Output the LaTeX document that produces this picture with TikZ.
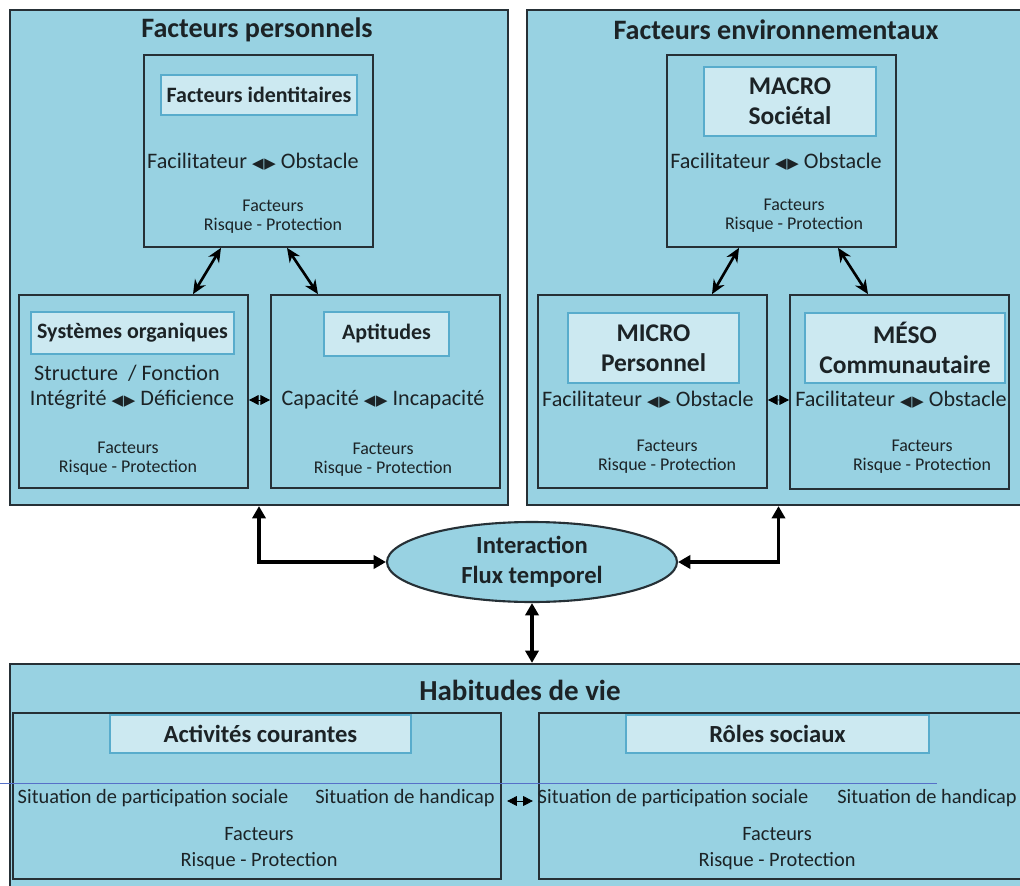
\documentclass[tikz,border=0pt]{standalone}
\usepackage{fontspec}
\setmainfont{Carlito}
\newfontfamily\trifont{DejaVu Sans}
\definecolor{panelblue}{RGB}{152,210,226}
\definecolor{titlefill}{RGB}{204,233,241}
\definecolor{titleedge}{RGB}{88,172,204}
\definecolor{edgegray}{RGB}{38,48,54}
\definecolor{textdark}{RGB}{28,35,38}
\definecolor{strayblue}{RGB}{86,112,200}
\usepackage{tikz}
\usetikzlibrary{shapes,arrows.meta,positioning,calc}

\newcommand{\lrtri}{{\trifont\fontsize{8.5}{8.5}\selectfont ◀\kern0.5pt▶}}

\begin{document}
\begin{tikzpicture}[x=0.02cm, y=-0.02cm,
    panel/.style={draw=edgegray, line width=1.3pt, fill=panelblue, inner sep=0},
    unit/.style={draw=edgegray, line width=1pt, fill=panelblue, inner sep=0},
    headbox/.style={draw=titleedge, line width=1pt, fill=titlefill, inner sep=0,
        text=textdark, font=\bfseries\fontsize{12.5}{15}\selectfont},
    bighead/.style={headbox, align=center, font=\bfseries\fontsize{14.5}{17}\selectfont},
    heading/.style={inner sep=0, text=textdark, font=\bfseries\fontsize{16}{18}\selectfont},
    midtext/.style={inner sep=0, text=textdark, font=\fontsize{12.6}{15}\selectfont},
    smalltext/.style={inner sep=0, align=center, text=textdark, font=\fontsize{10.2}{10.8}\selectfont},
    bottext/.style={inner sep=0, align=center, text=textdark, font=\fontsize{11.6}{14.8}\selectfont},
    diag/.style={{Stealth[length=8pt,width=7pt]}-{Stealth[length=8pt,width=7pt]}, line width=1.5pt, draw=black},
    tiny/.style={{Triangle[length=5.5pt,width=5.5pt]}-{Triangle[length=5.5pt,width=5.5pt]}, line width=0.4pt, draw=black},
    bold/.style={{Triangle[length=7pt,width=7.5pt]}-{Triangle[length=7pt,width=7.5pt]}, line width=1.8pt, draw=black}]

    \useasboundingbox (0,0) rectangle (1020,885);
    \fill[white] (0,0) rectangle (1020,885);

    % Panels
    \node[panel, minimum width=9.96cm, minimum height=9.9cm] (persF) at (259,257.5) {};
    \node[panel, minimum width=10.06cm, minimum height=9.9cm] (envF) at (778.5,257.5) {};
    \node[panel, minimum width=20.4cm, minimum height=4.56cm] (habV) at (520,778) {};

    \node[heading] (persT) at (257,30) {Facteurs personnels};
    \node[heading] (envT) at (776,30) {Facteurs environnementaux};
    \node[heading, font=\bfseries\fontsize{16.5}{18}\selectfont] (habT) at (520,690) {Habitudes de vie};

    % Facteurs personnels
    \node[unit, minimum width=4.58cm, minimum height=3.84cm] (ident) at (258.5,151) {};
    \node[headbox, minimum width=3.92cm, minimum height=0.8cm] (identH) at (259,95) {Facteurs identitaires};
    \node[midtext] (identM) at (253,162) {Facilitateur \lrtri{} Obstacle};
    \node[smalltext] (identF) at (273,216.5) {Facteurs\\Risque - Protection};

    \node[unit, minimum width=4.58cm, minimum height=3.86cm] (sysorg) at (133.5,391.5) {};
    \node[headbox, minimum width=4.06cm, minimum height=0.84cm] (sysorgH) at (132.5,333) {Systèmes organiques};
    \node[midtext] (sysorgS) at (127,373) {Structure \ / Fonction};
    \node[midtext] (sysorgM) at (132,400) {Intégrité \lrtri{} Déficience};
    \node[smalltext] (sysorgF) at (128,459) {Facteurs\\Risque - Protection};

    \node[unit, minimum width=4.58cm, minimum height=3.86cm] (aptit) at (385.5,391.5) {};
    \node[headbox, minimum width=2.5cm, minimum height=0.88cm] (aptitH) at (386.5,334) {Aptitudes};
    \node[midtext] (aptitM) at (383,400) {Capacité \lrtri{} Incapacité};
    \node[smalltext] (aptitF) at (383,459.5) {Facteurs\\Risque - Protection};

    % Facteurs environnementaux
    \node[unit, minimum width=4.58cm, minimum height=3.84cm] (macro) at (781.5,151) {};
    \node[bighead, minimum width=3.44cm, minimum height=1.38cm] (macroH) at (790,101.5) {MACRO\\Sociétal};
    \node[midtext] (macroM) at (776,162) {Facilitateur \lrtri{} Obstacle};
    \node[smalltext] (macroF) at (794,216) {Facteurs\\Risque - Protection};

    \node[unit, minimum width=4.58cm, minimum height=3.86cm] (micro) at (652.5,391.5) {};
    \node[bighead, minimum width=3.42cm, minimum height=1.4cm] (microH) at (653.5,348) {MICRO\\Personnel};
    \node[midtext] (microM) at (648,400) {Facilitateur \lrtri{} Obstacle};
    \node[smalltext] (microF) at (667,456.5) {Facteurs\\Risque - Protection};

    \node[unit, minimum width=4.38cm, minimum height=3.88cm] (meso) at (899.5,392) {};
    \node[bighead, minimum width=4cm, minimum height=1.4cm] (mesoH) at (905,348) {MÉSO\\Communautaire};
    \node[midtext] (mesoM) at (901,400) {Facilitateur \lrtri{} Obstacle};
    \node[smalltext] (mesoF) at (922,456.5) {Facteurs\\Risque - Protection};

    % Interaction
    \node[ellipse, draw=edgegray, line width=1.2pt, fill=panelblue, inner sep=0,
        minimum width=5.8cm, minimum height=1.6cm, align=center, text=textdark,
        font=\bfseries\fontsize{14}{17}\selectfont] (interF) at (532,562) {Interaction\\Flux temporel};

    % Habitudes de vie
    \node[unit, minimum width=9.76cm, minimum height=3.32cm] (actC) at (257,796) {};
    \node[headbox, minimum width=6.02cm, minimum height=0.76cm, font=\bfseries\fontsize{14}{16}\selectfont] (actCH) at (260.5,734) {Activités courantes};
    \node[bottext] (actCP) at (153,798) {Situation de participation sociale};
    \node[bottext] (actCS) at (405,798) {Situation de handicap};
    \node[bottext] (actCF) at (259,849) {Facteurs\\Risque - Protection};

    \node[unit, minimum width=9.82cm, minimum height=3.32cm] (rolS) at (784.5,796) {};
    \node[headbox, minimum width=6.06cm, minimum height=0.76cm, font=\bfseries\fontsize{14}{16}\selectfont] (rolSH) at (777.5,734) {Rôles sociaux};
    \node[bottext] (rolSP) at (673,798) {Situation de participation sociale};
    \node[bottext] (rolSS) at (927,798) {Situation de handicap};
    \node[bottext] (rolSF) at (777,849) {Facteurs\\Risque - Protection};

    \draw[strayblue, line width=0.5pt] (0,783) -- (937,783);

    % Arrows
    \draw[diag] ($(ident.south)+(-37.5,0)$) -- ($(sysorg.north)+(59.5,0)$);
    \draw[diag] ($(ident.south)+(28.5,0)$) -- ($(aptit.north)+(-67.5,0)$);
    \draw[diag] ($(macro.south)+(-42.5,0)$) -- ($(micro.north)+(59.5,0)$);
    \draw[diag] ($(macro.south)+(56.5,0)$) -- ($(meso.north)+(-31.5,0)$);
    \draw[tiny] ($(sysorg.east)+(0,8.5)$) -- ($(aptit.west)+(0,8.5)$);
    \draw[tiny] ($(micro.east)+(0,8.5)$) -- ($(meso.west)+(0,8)$);
    \draw[tiny, shorten <=3pt, shorten >=3pt] ($(actC.east)+(0,5)$) -- ($(rolS.west)+(0,5)$);
    \draw[bold] (persF.south) |- (interF.west);
    \draw[bold] (envF.south) |- (interF.east);
    \draw[bold] (interF.south) -- (interF.south |- habV.north);
\end{tikzpicture}
\end{document}
